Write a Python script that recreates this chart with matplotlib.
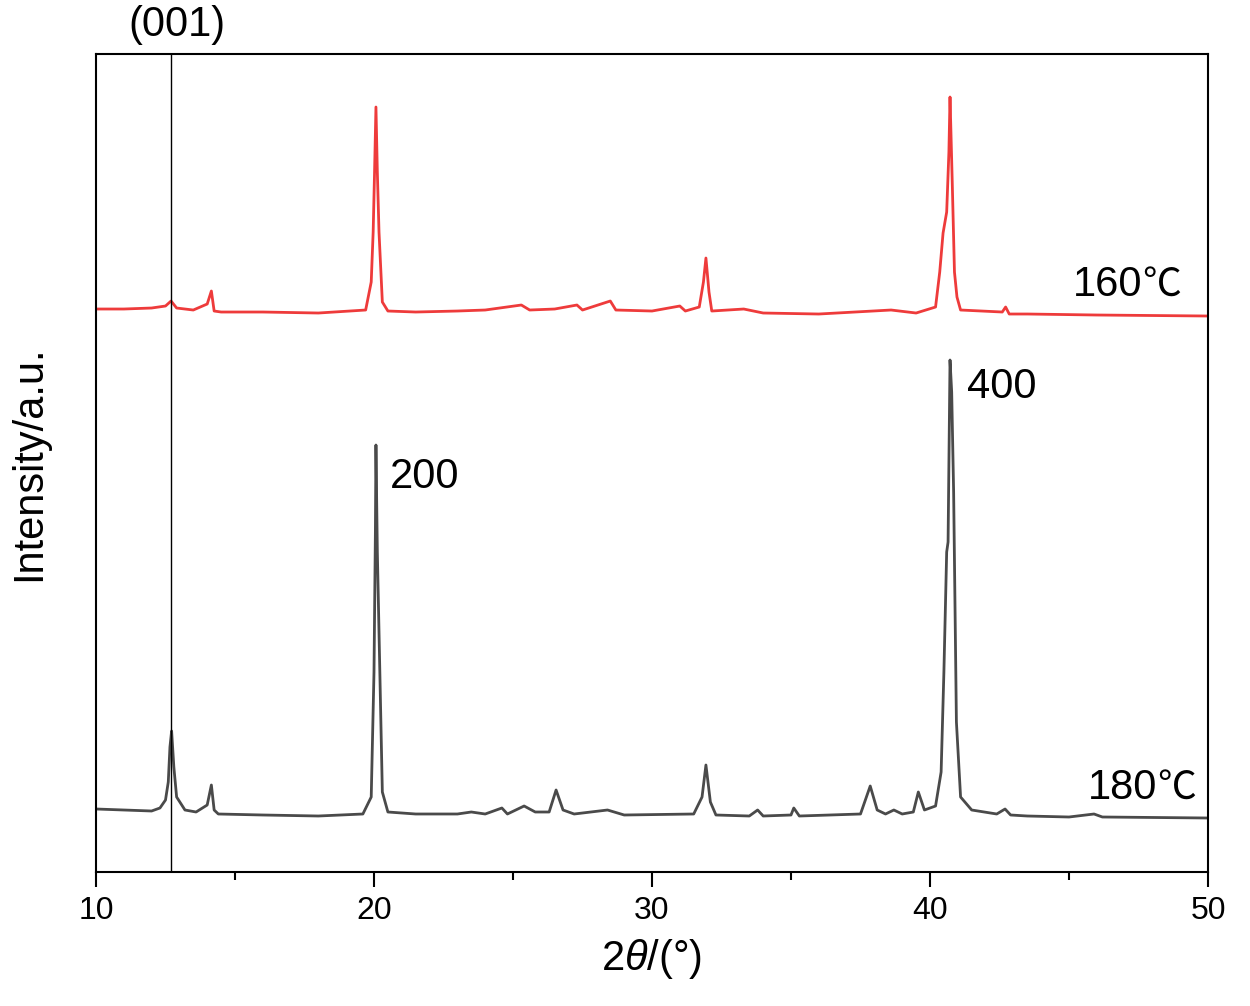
import matplotlib
matplotlib.use("Agg")
import matplotlib.pyplot as plt
from matplotlib.ticker import MultipleLocator

plt.rcParams['font.family'] = ['Liberation Sans', 'Noto Sans CJK SC', 'DejaVu Sans']
plt.rcParams['mathtext.fontset'] = 'custom'
plt.rcParams['mathtext.rm'] = 'Liberation Sans'
plt.rcParams['mathtext.it'] = 'Liberation Sans:italic'

# 180 ℃ pattern (lower, gray)
x_180 = [10.0, 11.0, 12.0, 12.3, 12.5, 12.6, 12.66, 12.72, 12.8, 12.9, 13.2, 13.6, 14.0,
         14.15, 14.25, 14.4, 16.0, 18.0, 19.6, 19.9, 20.0, 20.05, 20.07, 20.12, 20.18,
         20.3, 20.5, 21.5, 23.0, 23.5, 24.0, 24.6, 24.8, 25.4, 25.8, 26.3, 26.55,
         26.8, 27.2, 28.4, 29.0, 31.5, 31.8, 31.94, 32.1, 32.3, 33.5, 33.8, 34.0,
         35.0, 35.1, 35.3, 37.5, 37.85, 38.1, 38.4, 38.7, 39.0, 39.4, 39.58, 39.8,
         40.2, 40.4, 40.5, 40.6, 40.65, 40.72, 40.78, 40.85, 40.95, 41.1, 41.5, 42.4,
         42.7, 42.9, 43.5, 45.0, 45.9, 46.2, 50.0]
y_180 = [63, 62, 61, 64, 72, 90, 125, 141, 105, 75, 62, 60, 67,
         87, 62, 58, 57, 56, 58, 75, 200, 340, 427, 320, 240,
         80, 60, 58, 58, 60, 58, 64, 58, 66, 60, 60, 82,
         62, 58, 62, 57, 58, 75, 107, 70, 57, 56, 62, 56,
         57, 64, 56, 58, 86, 62, 58, 62, 58, 60, 80, 62,
         66, 100, 200, 320, 330, 512, 480, 380, 150, 75, 62, 58,
         63, 57, 56, 55, 58, 55, 54]

# 160 ℃ pattern (upper, red)
x_160 = [10.0, 11.0, 12.0, 12.5, 12.7, 12.9, 13.5, 14.0, 14.15, 14.25, 14.5, 16.0,
         18.0, 19.7, 19.9, 19.97, 20.02, 20.07, 20.12, 20.18, 20.3, 20.5, 21.5, 23.0,
         24.0, 25.3, 25.6, 26.5, 27.3, 27.5, 28.5, 28.7, 30.0, 31.0, 31.2, 31.7,
         31.85, 31.94, 32.05, 32.15, 33.3, 34.0, 36.0, 38.6, 39.5, 40.2, 40.35, 40.47,
         40.6, 40.68, 40.72, 40.8, 40.88, 40.97, 41.1, 42.6, 42.72, 42.85, 43.5, 46.0,
         50.0]
y_160 = [563, 563, 564, 566, 571, 564, 562, 568, 581, 561, 560, 560,
         559, 562, 590, 640, 700, 765, 700, 640, 570, 561, 560, 561,
         562, 567, 562, 563, 567, 562, 571, 562, 561, 566, 561, 565,
         590, 614, 580, 561, 563, 559, 558, 562, 559, 565, 600, 639,
         660, 720, 775, 690, 600, 575, 562, 560, 565, 558, 558, 557,
         556]

peak_001 = 12.7
x_ticks = [10, 20, 30, 40, 50]

fig = plt.figure(figsize=(12.5, 10.06), dpi=100)
ax = fig.add_axes([0.0768, 0.1332, 0.8896, 0.8131])

ax.plot(x_180, y_180, color='#4a4a4a', linewidth=2.0)
ax.plot(x_160, y_160, color='#ee3b3b', linewidth=2.0)
ax.axvline(peak_001, color='black', linewidth=1.0)

ax.set_xlim(10, 50)
ax.set_ylim(0, 818)
ax.set_xticks(x_ticks)
ax.xaxis.set_minor_locator(MultipleLocator(5))
ax.set_yticks([])
ax.tick_params(axis='x', which='major', direction='out', length=11, width=1.5,
               labelsize=23, pad=6)
ax.tick_params(axis='x', which='minor', direction='out', length=6, width=1.5)
for s in ax.spines.values():
    s.set_linewidth(1.5)

ax.set_xlabel('2$\\mathit{\\theta}$/(°)', fontsize=30, labelpad=8)
ax.set_ylabel('Intensity/a.u.', fontsize=30, labelpad=34)

ax.text(12.91, 847, '(001)', fontsize=30, ha='center', va='center', clip_on=False)
ax.text(20.58, 395, '200', fontsize=30, ha='left', va='center')
ax.text(41.33, 485, '400', fontsize=30, ha='left', va='center')
ax.text(45.14, 587, '160', fontsize=30, ha='left', va='center')
ax.text(47.62, 587, '℃', fontsize=28, ha='left', va='center', family='Noto Sans CJK SC')
ax.text(45.68, 84, '180', fontsize=30, ha='left', va='center')
ax.text(48.16, 84, '℃', fontsize=28, ha='left', va='center', family='Noto Sans CJK SC')

fig.savefig('out.png', dpi=100)
